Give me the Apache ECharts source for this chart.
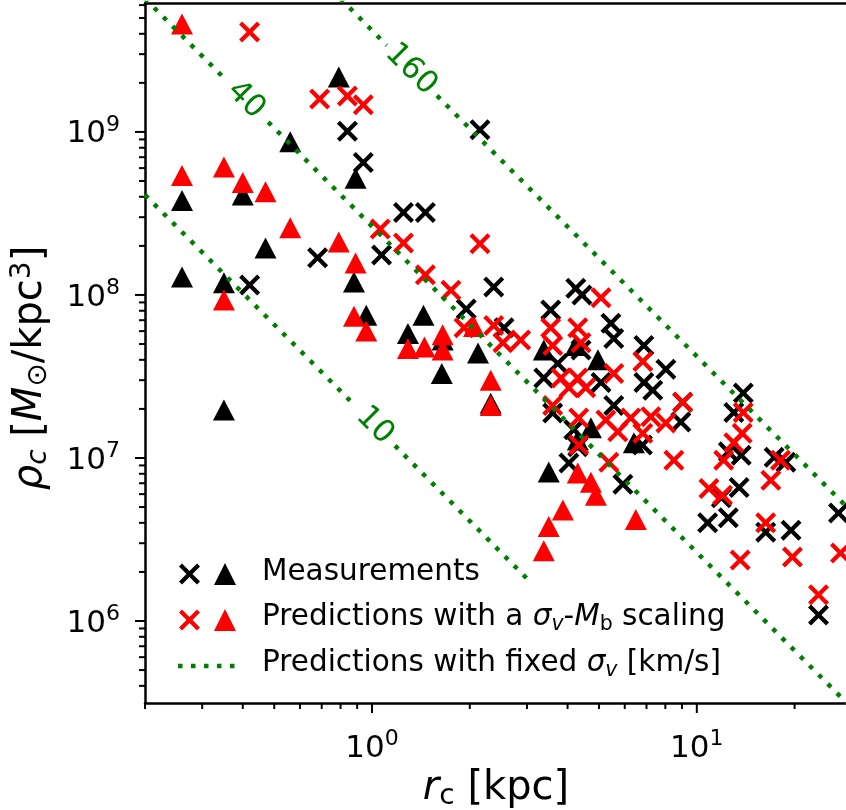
<!DOCTYPE html>
<html>
<head>
<meta charset="utf-8">
<title>rho_c vs r_c</title>
<script src="https://cdn.jsdelivr.net/npm/echarts@6/dist/echarts.min.js"></script>
<style>
  html, body { margin: 0; padding: 0; background: #fff; }
  #main { width: 846px; height: 810px; }
</style>
</head>
<body>
<div id="main"></div>
<script>
// core radius r_c [kpc] / core density rho_c [Msun/kpc^3]
var measCrossR = [0.42, 0.68, 0.84, 0.94, 1.07, 1.25, 1.46, 2.15, 2.37, 1.95, 2.55, 3.55, 4.24, 4.43, 5.44, 5.55, 6.87, 8.03, 6.87, 7.32, 5.55, 9.05, 8.93, 13.9, 13.0, 12.5, 13.7, 17.3, 10.8, 12.5, 13.5, 11.9, 16.3, 19.5, 27.3, 23.7, 5.92, 3.38, 3.73, 4.4, 5.07, 3.6, 4.18, 4.3, 4.04, 6.8, 18.8];
var measCrossRho = [1.15e8, 1.69e8, 1.01e9, 6.5e8, 1.76e8, 3.2e8, 3.2e8, 1.03e9, 1.12e8, 8.2e7, 6.3e7, 8.1e7, 1.1e8, 1.0e8, 6.7e7, 5.4e7, 4.9e7, 3.5e7, 2.9e7, 2.6e7, 2.1e7, 2.2e7, 1.66e7, 2.5e7, 1.9e7, 1.09e7, 1.04e7, 1.01e7, 4.0e6, 4.3e6, 6.6e6, 5.7e6, 3.5e6, 3.6e6, 4.6e6, 1.09e6, 6.9e6, 3.1e7, 3.8e7, 4.6e7, 2.9e7, 1.89e7, 1.49e7, 1.17e7, 9.3e6, 1.2e7, 9.4e6];

var measTriR = [0.26, 0.26, 0.40, 0.35, 0.35, 0.47, 0.56, 0.79, 0.89, 0.88, 0.96, 1.44, 1.29, 1.65, 1.64, 2.12, 2.32, 3.38, 4.96, 3.5, 4.72, 4.3, 6.4, 4.24];
var measTriRho = [3.8e8, 1.29e8, 4.1e8, 1.19e8, 1.97e7, 1.94e8, 8.7e8, 2.17e9, 5.2e8, 1.2e8, 7.5e7, 7.5e7, 5.8e7, 5.3e7, 3.3e7, 4.4e7, 2.17e7, 4.6e7, 4.0e7, 8.2e6, 1.53e7, 1.29e7, 1.24e7, 4.9e7];

var predCrossR = [0.42, 0.69, 0.84, 0.94, 1.06, 1.25, 2.15, 1.46, 1.75, 1.92, 2.37, 2.53, 2.87, 5.07, 3.55, 3.6, 4.3, 4.4, 6.82, 5.55, 3.82, 4.3, 4.04, 4.55, 3.6, 4.33, 4.33, 5.25, 5.71, 6.26, 6.82, 7.22, 8.03, 9.05, 8.5, 5.36, 13.9, 13.8, 13.0, 12.1, 18.1, 10.9, 12.0, 16.9, 16.3, 13.6, 19.7, 27.7, 23.7];
var predCrossRho = [4.1e9, 1.59e9, 1.66e9, 1.47e9, 2.54e8, 2.08e8, 2.06e8, 1.33e8, 1.07e8, 6.3e7, 6.5e7, 5.1e7, 5.3e7, 9.6e7, 6.3e7, 4.9e7, 6.3e7, 5.1e7, 3.9e7, 3.3e7, 3.1e7, 3.1e7, 2.7e7, 2.7e7, 2.1e7, 1.76e7, 1.2e7, 1.71e7, 1.45e7, 1.76e7, 1.42e7, 1.79e7, 1.64e7, 2.2e7, 9.7e6, 9.4e6, 1.9e7, 1.42e7, 1.24e7, 9.7e6, 9.7e6, 6.5e6, 5.9e6, 7.3e6, 4.0e6, 2.37e6, 2.47e6, 2.61e6, 1.45e6];

var predTriR = [0.26, 0.26, 0.35, 0.40, 0.47, 0.35, 0.56, 0.79, 0.89, 0.88, 0.96, 1.29, 1.45, 1.65, 1.65, 2.06, 2.32, 2.32, 4.3, 4.72, 4.89, 3.87, 3.5, 3.38, 6.49];
var predTriRho = [4.6e9, 5.4e8, 6.1e8, 4.9e8, 4.3e8, 9.3e7, 2.58e8, 2.11e8, 1.57e8, 7.4e7, 6.0e7, 4.7e7, 4.8e7, 5.7e7, 4.6e7, 6.4e7, 3.0e7, 2.1e7, 8.1e6, 7.1e6, 5.9e6, 4.8e6, 3.8e6, 2.7e6, 4.2e6];

// fixed sigma_v lines (null = gap left for the label)
var sigma10R = [0.2, 0.875, null, 1.177, 3.0];
var sigma10Rho = [4.11e8, 2.15e7, null, 1.19e7, 1.82e6];
var sigma40R = [0.2, 0.348, null, 0.479, 29];
var sigma40Rho = [6.58e9, 2.17e9, null, 1.15e9, 3.13e5];
var sigma160R = [0.8, 1.11, null, 1.585, 29];
var sigma160Rho = [6.58e9, 3.4e9, null, 1.67e9, 5.0e6];

var sigmaLabels = ['10', '40', '160'];
var sigmaLabelR = [1.02, 0.409, 1.318];
var sigmaLabelRho = [1.58e7, 1.57e9, 2.42e9];

// axis ticks
var xMajorTicks = [1, 10];
var xMinorTicks = [0.2, 0.3, 0.4, 0.5, 0.6, 0.7, 0.8, 0.9, 2, 3, 4, 5, 6, 7, 8, 9, 20];
var yMajorTicks = [1e6, 1e7, 1e8, 1e9];
var yMinorTicks = [4e5, 5e5, 6e5, 7e5, 8e5, 9e5,
  2e6, 3e6, 4e6, 5e6, 6e6, 7e6, 8e6, 9e6,
  2e7, 3e7, 4e7, 5e7, 6e7, 7e7, 8e7, 9e7,
  2e8, 3e8, 4e8, 5e8, 6e8, 7e8, 8e8, 9e8,
  2e9, 3e9, 4e9, 5e9, 6e9];

var X_MIN = 0.2, X_MAX = 29, Y_MIN = 3.14e5, Y_MAX = 6.18e9;
var FONT = 'DejaVu Sans';
var GREEN = '#008000';

// thick "x" marker outline, 21 x 21 box
var CROSS_PTS = [[0, 3], [3, 0], [10.5, 7.5], [18, 0], [21, 3], [13.5, 10.5],
  [21, 18], [18, 21], [10.5, 13.5], [3, 21], [0, 18], [7.5, 10.5]];
var CROSS = 'path://M' + CROSS_PTS.map(function (p) { return p[0] + ',' + p[1]; }).join('L') + 'Z';

function pairs(xs, ys) {
  return xs.map(function (x, i) {
    return x === null ? [Math.sqrt(xs[i - 1] * xs[i + 1]), '-'] : [x, ys[i]];
  });
}

function powLabel(v) {
  var e = Math.round(Math.log(v) / Math.LN10);
  var p = Math.pow(10, e);
  if (Math.abs(v - p) / p > 1e-6) return '';
  return '{b|10}{s|' + e + '}';
}

var tickData = [];
xMajorTicks.forEach(function (v) { tickData.push([v, Y_MIN, 0, 1]); });
xMinorTicks.forEach(function (v) { tickData.push([v, Y_MIN, 0, 0]); });
yMajorTicks.forEach(function (v) { tickData.push([X_MIN, v, 1, 1]); });
yMinorTicks.forEach(function (v) { tickData.push([X_MIN, v, 1, 0]); });

var tickRich = {
  b: { fontSize: 31, fontFamily: FONT, color: '#000', lineHeight: 36, verticalAlign: 'bottom' },
  s: { fontSize: 22, fontFamily: FONT, color: '#000', lineHeight: 22, verticalAlign: 'top' }
};

var nameRich = {
  n: { fontSize: 40, fontFamily: FONT, color: '#000', lineHeight: 44 },
  i: { fontSize: 40, fontFamily: FONT, fontStyle: 'italic', color: '#000', lineHeight: 44 },
  sub: { fontSize: 28, fontFamily: FONT, color: '#000', lineHeight: 26, verticalAlign: 'bottom' },
  subi: { fontSize: 28, fontFamily: FONT, fontStyle: 'italic', color: '#000', lineHeight: 26, verticalAlign: 'bottom' },
  sup: { fontSize: 28, fontFamily: FONT, color: '#000', lineHeight: 26, verticalAlign: 'top' }
};

var legendRich = {
  n: { fontSize: 29.5, fontFamily: FONT, fill: '#000', lineHeight: 36 },
  i: { fontSize: 29.5, fontFamily: FONT, fontStyle: 'italic', fill: '#000', lineHeight: 36 },
  subi: { fontSize: 20.5, fontFamily: FONT, fontStyle: 'italic', fill: '#000', lineHeight: 18, verticalAlign: 'bottom' },
  sub: { fontSize: 20.5, fontFamily: FONT, fill: '#000', lineHeight: 18, verticalAlign: 'bottom' }
};

function legendCross(cx, cy, color) {
  return {
    type: 'polygon',
    shape: { points: CROSS_PTS.map(function (p) { return [cx - 10.5 + p[0], cy - 10.5 + p[1]]; }) },
    style: { fill: color }
  };
}
function legendTri(cx, cy, color) {
  return { type: 'polygon', shape: { points: [[cx, cy - 11], [cx - 11, cy + 11], [cx + 11, cy + 11]] }, style: { fill: color } };
}
function legendText(y, text) {
  return { type: 'text', x: 262, y: y, style: { text: text, rich: legendRich, fontSize: 29.5, fontFamily: FONT, fill: '#000', align: 'left', verticalAlign: 'middle' } };
}

var legendGraphics = [
  legendCross(189.5, 574, '#000'),
  legendTri(225, 574, '#000'),
  legendCross(189.5, 620, '#ff0000'),
  legendTri(225, 620, '#ff0000'),
  { type: 'line', shape: { x1: 178, y1: 666, x2: 236, y2: 666 }, style: { stroke: GREEN, lineWidth: 4.5, lineDash: [4.5, 8.5] } },
  legendText(572, '{n|Measurements}'),
  legendText(617, '{n|Predictions with a }{i|σ}{subi|v}{n|-}{i|M}{sub|b}{n| scaling}'),
  legendText(663, '{n|Predictions with fixed }{i|σ}{subi|v}{n| [km/s]}')
];

function scatterSeries(name, xs, ys, symbol, size, color, z) {
  return {
    name: name,
    type: 'scatter',
    data: xs.map(function (x, i) { return [x, ys[i]]; }),
    symbol: symbol,
    symbolSize: size,
    itemStyle: { color: color, opacity: 1 },
    emphasis: { disabled: true },
    silent: true,
    z: z
  };
}

function sigmaSeries(xs, ys) {
  return {
    type: 'line',
    data: pairs(xs, ys),
    symbol: 'none',
    connectNulls: false,
    lineStyle: { color: GREEN, width: 4.5, type: [4.5, 8.5], opacity: 1 },
    emphasis: { disabled: true },
    silent: true,
    z: 6
  };
}

var chart = echarts.init(document.getElementById('main'));
chart.setOption({
  animation: false,
  backgroundColor: '#fff',
  textStyle: { fontFamily: FONT },
  grid: { left: 145, top: 3, right: -1, bottom: 107, containLabel: false, outerBoundsMode: 'none' },
  xAxis: [{
    type: 'log',
    min: X_MIN,
    max: X_MAX,
    name: '{i|r}{sub|c}{n| [kpc]}',
    nameLocation: 'middle',
    nameGap: 62,
    nameTextStyle: { fontSize: 40, rich: nameRich },
    axisLine: { show: true, onZero: false, lineStyle: { color: '#000', width: 2.5 } },
    axisTick: { show: false },
    splitLine: { show: false },
    axisLabel: { formatter: powLabel, rich: tickRich, margin: 25 }
  }, {
    type: 'log',
    position: 'top',
    min: X_MIN,
    max: X_MAX,
    axisLine: { show: true, onZero: false, lineStyle: { color: '#000', width: 2.5 } },
    axisTick: { show: false },
    axisLabel: { show: false },
    splitLine: { show: false }
  }],
  yAxis: {
    type: 'log',
    min: Y_MIN,
    max: Y_MAX,
    name: '{i|ρ}{subi|c}{n| [}{i|M}{sub|⊙}{n|/kpc}{sup|3}{n|]}',
    nameLocation: 'middle',
    nameRotate: 90,
    nameGap: 92,
    nameTextStyle: { fontSize: 40, rich: nameRich, padding: [0, 30, 0, 0] },
    axisLine: { show: true, onZero: false, lineStyle: { color: '#000', width: 2.5 } },
    axisTick: { show: false },
    splitLine: { show: false },
    axisLabel: { formatter: powLabel, rich: tickRich, margin: 25 }
  },
  graphic: legendGraphics,
  series: [
    scatterSeries('Measurements', measCrossR, measCrossRho, CROSS, 21, '#000', 2),
    scatterSeries('Measurements', measTriR, measTriRho, 'triangle', [22, 21], '#000', 3),
    scatterSeries('Predictions', predCrossR, predCrossRho, CROSS, 21, '#ff0000', 4),
    scatterSeries('Predictions', predTriR, predTriRho, 'triangle', [22, 21], '#ff0000', 5),
    sigmaSeries(sigma10R, sigma10Rho),
    sigmaSeries(sigma40R, sigma40Rho),
    sigmaSeries(sigma160R, sigma160Rho),
    {
      type: 'scatter',
      data: sigmaLabels.map(function (t, i) { return { name: t, value: [sigmaLabelR[i], sigmaLabelRho[i]] }; }),
      symbolSize: 0,
      silent: true,
      z: 7,
      itemStyle: { opacity: 1 },
      label: {
        show: true,
        position: 'inside',
        formatter: '{b}',
        rotate: -45,
        color: GREEN,
        opacity: 1,
        fontSize: 31,
        fontFamily: FONT
      }
    },
    {
      type: 'custom',
      silent: true,
      z: 1,
      data: tickData,
      renderItem: function (params, api) {
        var p = api.coord([api.value(0), api.value(1)]);
        var len = api.value(3) ? 10 : 6;
        var shape = api.value(2) === 0
          ? { x1: p[0], y1: p[1], x2: p[0], y2: p[1] + len }
          : { x1: p[0], y1: p[1], x2: p[0] - len, y2: p[1] };
        return { type: 'line', shape: shape, style: { stroke: '#000', lineWidth: 2 } };
      }
    }
  ]
});
</script>
</body>
</html>
